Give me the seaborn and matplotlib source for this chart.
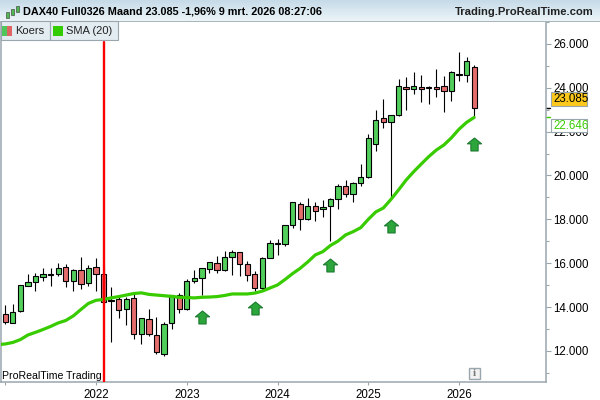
import matplotlib
matplotlib.use("Agg")
import matplotlib.pyplot as plt
import numpy as np
import pandas as pd
import seaborn as sns
from matplotlib.patches import Rectangle
from matplotlib.path import Path
from matplotlib.ticker import FuncFormatter, MultipleLocator

# months counted from jan 2022
months = list(range(-12, 51))
highs = [14100, 14140, 15030, 15510, 15540, 15770, 15770, 16000, 15950, 15720, 16270, 15910,
         16230, 15830, 14900, 14450, 14480, 14580, 13490, 13900, 13540, 13310, 14540, 14630,
         15270, 15680, 15780, 16040, 16330, 16560, 16590, 16500, 16090, 15630, 16270, 17050,
         17090, 17730, 18780, 18780, 18960, 18780, 18880, 18960, 19600, 19780, 19690, 20510,
         21880, 22980, 23490, 22740, 24380, 24470, 24700, 24580, 24060, 24850, 24520, 24750,
         25610, 25390, 25040]
lows = [13230, 13270, 13790, 14970, 14750, 15200, 14980, 15430, 14930, 14750, 14840, 14980,
        14750, 14190, 12400, 13520, 13200, 12530, 12310, 12670, 11850, 11760, 12990, 13720,
        13860, 15080, 14550, 15570, 15570, 15660, 15480, 15430, 15200, 14720, 14810, 16220,
        16390, 16800, 17590, 17530, 17990, 17910, 18120, 17030, 18460, 19010, 18800, 19540,
        19870, 21130, 22150, 18960, 22720, 22970, 23700, 23360, 23240, 23560, 22910, 23410,
        24290, 24250, 22610]
opens = [13690, 13290, 13810, 14980, 15130, 15390, 15510, 15520, 15820, 15200, 15680, 15110,
         15820, 15500, 14320, 14360, 13900, 14400, 12760, 13440, 12720, 11850, 13260, 14540,
         13900, 15170, 15310, 15720, 16000, 15680, 16270, 16500, 15950, 15500, 14860, 16230,
         16910, 16860, 17730, 18690, 18000, 18600, 18460, 18590, 18910, 19510, 19140, 19640,
         19920, 21420, 22610, 22420, 22740, 24020, 23960, 24020, 24020, 24020, 24060, 23840,
         24630, 24570, 24930]
closes = [13340, 13780, 15010, 15130, 15400, 15500, 15480, 15770, 15180, 15680, 15070, 15770,
          15500, 14220, 14270, 13860, 14360, 12760, 13490, 12760, 11940, 13220, 14540, 13900,
          15190, 15310, 15770, 16040, 15680, 16270, 16500, 15950, 15450, 14860, 16230, 16910,
          16860, 17730, 18780, 18000, 18600, 18370, 18550, 18940, 19510, 19140, 19640, 19920,
          21690, 22520, 22450, 22740, 24060, 23960, 24060, 23960, 24000, 23960, 23840, 24700,
          24570, 25200, 23085]

sma_months = list(range(-13, 51))
sma = [12290, 12320, 12390, 12520, 12730, 12850, 12980, 13120, 13280, 13390, 13600, 13890, 14170,
       14310, 14350, 14420, 14480, 14550, 14620, 14650, 14580, 14550, 14520, 14490, 14450,
       14440, 14420, 14450, 14460, 14480, 14530, 14600, 14600, 14600, 14640, 14730, 14870,
       15010, 15260, 15530, 15770, 16060, 16380, 16530, 16810, 17010, 17290, 17440, 17620,
       18000, 18340, 18520, 18910, 19340, 19790, 20170, 20520, 20860, 21160, 21390, 21720,
       22110, 22420, 22646]

arrow_months = [14, 21, 31, 39, 50]
arrow_prices = [13550, 13960, 15930, 17700, 21440]

year_ticks = [-12, 0, 12, 24, 36, 48]
year_labels = ["", "2022", "2023", "2024", "2025", "2026"]
event_month = 1
last_price = 23085
last_sma = 22646

GREEN = "#52cf5a"
RED = "#e46c6c"
SMA_GREEN = "#38cc00"
GRID_GREY = "#9aa6ad"
W, H = 600, 400


def box(fig, x0, y0, x1, y1, **kw):
    # pixel box, y counted from the top
    r = Rectangle((x0 / W, 1 - y1 / H), (x1 - x0) / W, (y1 - y0) / H,
                  transform=fig.transFigure, **kw)
    fig.add_artist(r)


def ptext(fig, x, y, s, **kw):
    fig.text(x / W, 1 - y / H, s, va="center", **kw)


sns.set_theme(style="white")
plt.rcParams["font.family"] = ["Liberation Sans", "DejaVu Sans"]

df = pd.DataFrame({"month": months, "high": highs, "low": lows, "open": opens, "close": closes})
df["top"] = df[["open", "close"]].max(axis=1)
df["bottom"] = df[["open", "close"]].min(axis=1)
df["color"] = np.where(df["close"] >= df["open"], GREEN, RED)
sma_df = pd.DataFrame({"month": sma_months, "sma": sma})
arrow_df = pd.DataFrame({"month": arrow_months, "price": arrow_prices})

fig = plt.figure(figsize=(6, 4), dpi=100, facecolor="white")
ax = fig.add_axes([1 / W, 18 / H, 545 / W, 361 / H])

ax.vlines(df["month"], df["low"], df["high"], color="black", lw=0.8, zorder=2)
ax.bar(df["month"], df["top"] - df["bottom"], bottom=df["bottom"], width=0.7,
       color=df["color"], edgecolor="black", linewidth=0.8, zorder=3)

sns.lineplot(data=sma_df, x="month", y="sma", color=SMA_GREEN, lw=2.3, ax=ax, zorder=4)

arrow_marker = Path([(-0.28, -0.5), (0.28, -0.5), (0.28, 0.05), (0.55, 0.05), (0, 0.5),
                     (-0.55, 0.05), (-0.28, 0.05), (-0.28, -0.5)], closed=True)
sns.scatterplot(data=arrow_df, x="month", y="price", marker=arrow_marker, s=105, color="#2ca53a",
                edgecolor="#1d7a30", linewidth=0.8, ax=ax, zorder=5)

ax.axvline(event_month, ymax=340 / 361, color="#fb0000", lw=1.7, zorder=6)

ax.set_xlim(-12.56, 59.5)
ax.set_ylim(10587, 27041)
ax.set_xlabel("")
ax.set_ylabel("")
ax.set_xticks(year_ticks)
ax.set_xticklabels(year_labels)
ax.yaxis.tick_right()
ax.yaxis.set_major_locator(MultipleLocator(2000))
ax.yaxis.set_minor_locator(MultipleLocator(1000))
ax.yaxis.set_major_formatter(FuncFormatter(lambda v, _: f"{v:,.0f}".replace(",", ".")))
ax.tick_params(axis="y", which="major", right=True, length=3.5, width=0.8, color=GRID_GREY,
               labelsize=8.3, labelcolor="black", pad=2)
ax.tick_params(axis="y", which="minor", right=True, length=2.5, width=0.8, color=GRID_GREY)
ax.tick_params(axis="x", bottom=True, length=2.5, width=0.8, color=GRID_GREY,
               labelsize=8.3, labelcolor="black", pad=2.5)
ax.spines["top"].set_visible(False)
for side in ["left", "right", "bottom"]:
    ax.spines[side].set_color(GRID_GREY)
    ax.spines[side].set_linewidth(1.1)

# last price and last sma tags on the scale
trans = ax.get_yaxis_transform()
ax.plot([1.0, 1.008], [last_price, last_price], color="black", lw=1, transform=trans, clip_on=False)
ax.plot([1.0, 1.008], [last_sma, last_sma], color=SMA_GREEN, lw=1, transform=trans, clip_on=False)
box(fig, 551, 92, 587, 106, facecolor="#fcc81c", edgecolor=GRID_GREY, linewidth=0.8, zorder=10)
box(fig, 551, 118.5, 587, 132, facecolor="white", edgecolor=GRID_GREY, linewidth=0.8, zorder=10)
ptext(fig, 553, 99.3, "23.085", fontsize=8.3, color="black", zorder=11)
ptext(fig, 553, 125.6, "22.646", fontsize=8.3, color=SMA_GREEN, zorder=11)

# header band
head = fig.add_axes([0, 379 / H, 1, 21 / H], zorder=8)
head.imshow(np.linspace(0, 1, 21).reshape(-1, 1), aspect="auto",
            cmap=matplotlib.colors.LinearSegmentedColormap.from_list("hd", ["#c6dbe8", "#ecf4f8"]))
head.axis("off")
box(fig, 0, 20.5, W, 21.5, facecolor="#a9b5bc", edgecolor="none", zorder=9)
ptext(fig, 23, 12, "DAX40 Full0326 Maand 23.085 -1,96% 9 mrt. 2026 08:27:06", fontsize=7.8,
      fontweight="bold", color="black", zorder=10)
ptext(fig, 455, 12, "Trading.ProRealTime.com", fontsize=8.1, fontweight="bold", color="#222222",
      ha="left", zorder=10)
for bx, by0, by1 in [(7, 12, 18), (12, 9, 15), (17, 6, 12)]:
    box(fig, bx - 1.5, by0, bx + 1.5, by1, facecolor="#4fb84f", edgecolor="#333333", linewidth=0.4,
        zorder=10)

# legend tabs
box(fig, 0.5, 21.5, 49.5, 40, facecolor="#e3ecf1", edgecolor=GRID_GREY, linewidth=0.8, zorder=9)
box(fig, 49.5, 21.5, 117.5, 40, facecolor="#e3ecf1", edgecolor=GRID_GREY, linewidth=0.8, zorder=9)
box(fig, 2, 26, 7, 36, facecolor="#4fc65a", edgecolor="none", zorder=10)
box(fig, 7, 26, 12, 36, facecolor="#e06464", edgecolor="none", zorder=10)
box(fig, 53, 26, 63, 36, facecolor="#33cc00", edgecolor="none", zorder=10)
ptext(fig, 15.5, 30.5, "Koers", fontsize=8.0, color="#222222", zorder=10)
ptext(fig, 66.5, 30.5, "SMA (20)", fontsize=8.0, color="#222222", zorder=10)

ptext(fig, 2, 376, "ProRealTime Trading", fontsize=7.6, color="black", zorder=10)

# info icon
box(fig, 468.5, 367.5, 479.5, 378.5, facecolor="#f2f2f2", edgecolor=GRID_GREY, linewidth=1, zorder=10)
ptext(fig, 474, 373, "i", fontsize=8, fontweight="bold", family="Liberation Serif", color="#777777",
      ha="center", zorder=11)

fig.savefig("out.png", dpi=100)
